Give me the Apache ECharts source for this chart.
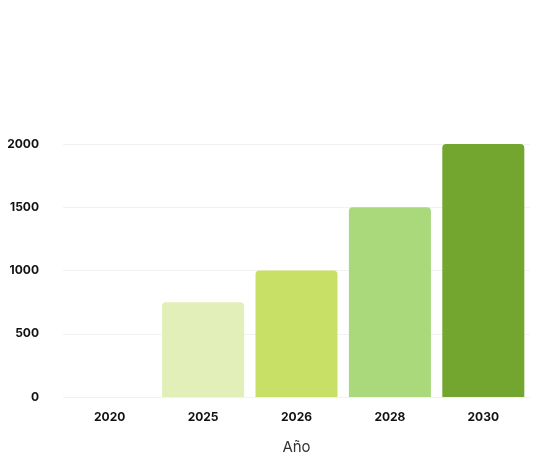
<!DOCTYPE html>
<html>
<head>
<meta charset="utf-8">
<script src="https://cdn.jsdelivr.net/npm/echarts@6/dist/echarts.min.js"></script>
<style>html,body{margin:0;padding:0;background:#fff}#chart{width:549px;height:465px}</style>
</head>
<body>
<div id="chart"></div>
<script>
// datos
var years = ["2020", "2025", "2026", "2028", "2030"];
var toneladas = [0, 750, 1000, 1500, 2000];
var barColors = ["#e3efb8", "#e3efb8", "#c9e066", "#a9d97a", "#72a62e"];

var chart = echarts.init(document.getElementById("chart"));
chart.setOption({
    animation: false,
    textStyle: { fontFamily: "Inter" },
    grid: { left: 63, right: 19, top: 144, bottom: 68, containLabel: false, outerBoundsMode: "none" },
    xAxis: {
        type: "category",
        data: years,
        name: "Año",
        nameLocation: "middle",
        nameGap: 43,
        nameTextStyle: { fontSize: 15, color: "#333" },
        axisLine: { show: false },
        axisTick: { show: false },
        axisLabel: { fontWeight: "bold", fontSize: 12, color: "#111", margin: 14 }
    },
    yAxis: {
        type: "value",
        min: 0,
        max: 2000,
        interval: 500,
        name: "Toneladas",
        nameLocation: "middle",
        nameGap: 60,
        nameTextStyle: { fontSize: 15, color: "#333" },
        axisLabel: { fontWeight: "bold", fontSize: 12, color: "#111", margin: 24,
            formatter: function (v) { return String(v); } },
        splitLine: { lineStyle: { color: "#f2f2f2" } }
    },
    series: [{
        type: "bar",
        barWidth: 82,
        data: toneladas.map(function (v, i) {
            return { value: v, itemStyle: { color: barColors[i] } };
        }),
        itemStyle: { borderRadius: [4, 4, 0, 0] }
    }]
});
</script>
</body>
</html>
